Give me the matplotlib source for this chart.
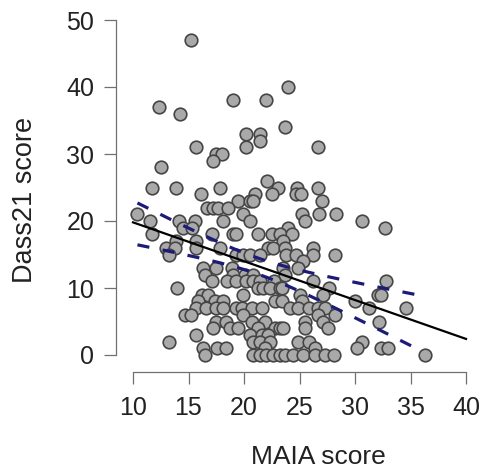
import numpy as np
import matplotlib
matplotlib.use("Agg")
import matplotlib.pyplot as plt

plt.rcParams['font.family'] = ['Liberation Sans', 'DejaVu Sans']

# values (MAIA score, Dass21 score)
maia_score = [
    15.2, 12.3, 14.2, 19.0, 22.0, 24.0, 23.7, 20.2, 21.4, 21.4, 15.7, 20.2, 26.7,
    17.5, 18.0, 17.2, 12.5, 22.1, 11.7, 13.9, 17.8, 23.1, 24.8, 26.7, 16.1, 21.0,
    22.5, 24.7, 25.1, 19.5, 20.5, 20.8, 27.0,
    16.7, 17.2, 17.7, 18.6,
    10.4, 19.9, 25.2, 26.8, 28.3,
    11.5, 14.1, 15.6, 18.1, 20.5, 25.5, 30.6,
    14.5, 15.3, 24.0, 32.7,
    11.7, 17.1, 19.0, 19.3, 21.3, 22.5, 23.2, 24.3,
    13.9, 15.7, 23.5,
    13.0, 13.8, 15.7, 17.8, 22.2, 22.6, 23.7, 26.2,
    13.2, 19.3, 19.9, 20.5, 21.4, 23.8, 24.7, 26.2, 28.2,
    25.3,
    16.3, 17.5, 18.9, 23.5, 24.9,
    16.5, 19.0, 20.1, 20.8, 23.7,
    17.1, 18.5, 19.3, 20.2, 20.8, 21.4, 22.7, 26.2, 32.8,
    14.0, 21.3, 21.7, 22.3, 23.2, 23.4, 27.7,
    16.2, 16.8, 19.9, 25.0, 27.1, 32.1, 32.3,
    15.9, 17.4, 18.1, 22.8, 23.4, 25.2, 30.0,
    15.7, 16.6, 17.5, 18.1, 19.3, 19.8, 20.7, 21.6, 24.1, 24.9, 25.9, 26.7, 27.3,
    31.3, 34.6,
    14.7, 15.2, 19.9, 26.7, 28.2,
    17.5, 18.4, 20.7, 21.9, 25.5, 27.1, 32.2,
    17.2, 18.7, 19.5, 21.3, 22.8, 23.2, 23.5, 25.5, 27.6,
    15.7, 20.5, 21.6, 22.2,
    13.2, 20.8, 21.4, 22.3, 24.9, 25.9, 30.6,
    16.3, 17.6, 18.4, 21.9, 26.4, 30.2, 32.3, 33.0,
    16.5, 20.8, 21.4, 22.0, 22.6, 23.2, 23.7, 24.4, 25.3, 26.4, 27.3, 28.1, 36.3,
]
dass21_score = [
    47, 37, 36, 38, 38, 40, 34, 33, 33, 32, 31, 31, 31,
    30, 30, 29, 28, 26, 25, 25, 25, 25, 25, 25, 24, 24,
    24, 24, 24, 23, 23, 23, 23,
    22, 22, 22, 22,
    21, 21, 21, 21, 21,
    20, 20, 20, 20, 20, 20, 20,
    19, 19, 19, 19,
    18, 18, 18, 18, 18, 18, 18, 18,
    17, 17, 17,
    16, 16, 16, 16, 16, 16, 16, 16,
    15, 15, 15, 15, 15, 15, 15, 15, 15,
    14,
    13, 13, 13, 13, 13,
    12, 12, 12, 12, 12,
    11, 11, 11, 11, 11, 11, 11, 11, 11,
    10, 10, 10, 10, 10, 10, 10,
    9, 9, 9, 9, 9, 9, 9,
    8, 8, 8, 8, 8, 8, 8,
    7, 7, 7, 7, 7, 7, 7, 7, 7, 7, 7, 7, 7,
    7, 7,
    6, 6, 6, 6, 6,
    5, 5, 5, 5, 5, 5, 5,
    4, 4, 4, 4, 4, 4, 4, 4, 4,
    3, 3, 3, 3,
    2, 2, 2, 2, 2, 2, 2,
    1, 1, 1, 1, 1, 1, 1, 1,
    0, 0, 0, 0, 0, 0, 0, 0, 0, 0, 0, 0, 0,
]

# fitted line and its confidence band
fit_intercept = 25.6
fit_slope = -0.58
fit_range = [10, 40]
ci_range = [10.4, 35.6]
ci_center = 21.2
ci_min = 1.2
ci_growth = 0.267

x_ticks = [10, 15, 20, 25, 30, 35, 40]
y_ticks = [0, 10, 20, 30, 40, 50]

W, H = 481, 472
fig = plt.figure(figsize=(W / 100, H / 100), dpi=100)
# plot region in pixels: left 116, right 481, top 3, bottom 372
ax = fig.add_axes([116 / W, (H - 372) / H, 365 / W, 369 / H])
ax.set_xlim(10 - 17 / 11.1, 10 + (481 - 133) / 11.1)
ax.set_ylim(-17 / 6.7, (355 - 3) / 6.7)

ax.scatter(maia_score, dass21_score, s=82, c='#a9a9a9', edgecolors='#454545',
           linewidths=1.2, zorder=2)

xl = np.linspace(fit_range[0], fit_range[1], 2)
ax.plot(xl, fit_intercept + fit_slope * xl, color='black', lw=1.6, zorder=3)

xc = np.linspace(ci_range[0], ci_range[1], 200)
yc = fit_intercept + fit_slope * xc
half = np.sqrt(ci_min ** 2 + (ci_growth * (xc - ci_center)) ** 2)
for sign in (1, -1):
    ax.plot(xc, yc + sign * half, color='#1c1c78', lw=2.3,
            linestyle=(0, (3.8, 4.2)), zorder=3)

for s in ['top', 'right']:
    ax.spines[s].set_visible(False)
ax.spines['left'].set_bounds(0, 50)
ax.spines['bottom'].set_bounds(10, 40)
for s in ['left', 'bottom']:
    ax.spines[s].set_color('#707070')
    ax.spines[s].set_linewidth(0.9)

ax.set_xticks(x_ticks)
ax.set_yticks(y_ticks)
ax.tick_params(length=8.6, width=0.9, color='#707070', labelsize=18,
               labelcolor='#222222')
ax.tick_params(axis='x', pad=9)
ax.tick_params(axis='y', pad=7)

fig.text(318 / W, 1 - 457 / H, 'MAIA score', ha='center', va='center',
         fontsize=19, color='#222222')
fig.text(25 / W, 1 - 200 / H, 'Dass21 score', ha='center', va='center',
         rotation=90, fontsize=19.5, color='#222222')

fig.savefig('out.png', dpi=100)
